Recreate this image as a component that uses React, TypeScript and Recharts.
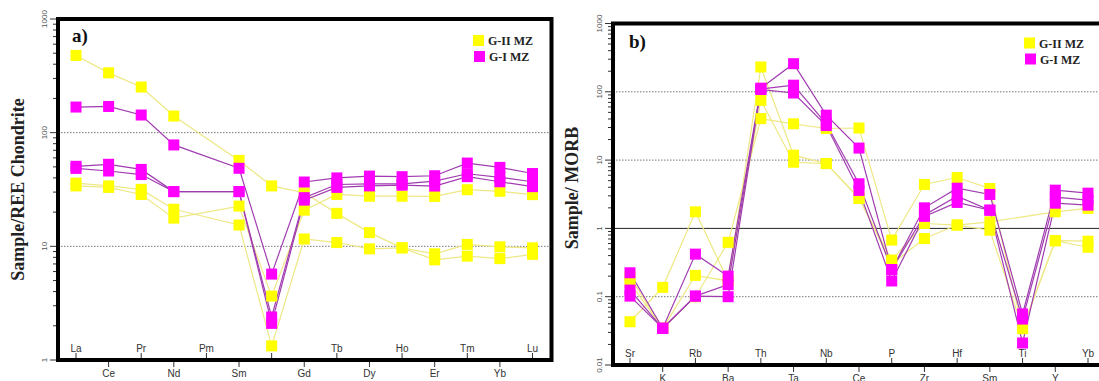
import { LineChart, Line, XAxis, YAxis, ReferenceLine } from "recharts";

// Chondrite-normalised REE pattern
const reeElements = ["La", "Ce", "Pr", "Nd", "Pm", "Sm", "Eu", "Gd", "Tb", "Dy", "Ho", "Er", "Tm", "Yb", "Lu"];
const reeGII_1 = [478, 336, 252, 140, null, 57, 34, 29.6, 19.5, 13.2, 9.7, 8.6, 10.4, 9.9, 9.7];
const reeGII_2 = [36, 34, 31.7, 21.2, null, 15.4, 1.33, 11.6, 10.8, 9.5, 9.7, 7.6, 8.2, 7.8, 8.5];
const reeGII_3 = [34, 33, 28.6, 17.7, null, 22.6, 3.65, 20.8, 28.6, 27.6, 27.6, 27.5, 31.5, 30.5, 28.5];
const reeGI_1 = [168, 170, 143, 78, null, 48.6, 5.7, 36.8, 40, 41.5, 41, 41.8, 54, 49.5, 43.7];
const reeGI_2 = [50.6, 52.7, 47.5, 30.3, null, 30.3, 2.39, 26.8, 35, 35.5, 35.4, 37.5, 43.5, 40.5, 37];
const reeGI_3 = [48.5, 46, 42.8, 30.3, null, 30.3, 2.1, 25.5, 33, 34, 34.5, 33.9, 41, 37, 33.5];

// MORB-normalised multi-element pattern
const morbElements = ["Sr", "K", "Rb", "Ba", "Th", "Ta", "Nb", "Ce", "P", "Zr", "Hf", "Sm", "Ti", "Y", "Yb"];
const morbGII_1 = [0.16, 0.0345, 0.1, 0.625, 40.5, 34, 29, 29.5, 0.675, 4.4, 5.56, 3.84, 0.0345, 0.66, 0.65];
const morbGII_2 = [0.043, 0.137, 1.75, 0.17, 231, 11.8, 8.9, 2.74, 0.344, 1.18, 1.12, 0.94, 0.034, 0.66, 0.53];
const morbGII_3 = [0.196, 0.0345, 0.205, 0.17, 75, 9.3, 8.9, 2.8, 0.3, 0.71, 1.12, 1.25, null, 1.75, 1.96];
const morbGI_1 = [0.224, 0.0345, 0.42, 0.2, 113, 258, 45.5, 15, 0.25, 2.0, 3.88, 3.14, 0.056, 3.63, 3.28];
const morbGI_2 = [0.125, 0.0345, 0.102, 0.15, 110, 125, 34, 4.5, 0.25, 1.57, 2.97, 1.85, 0.047, 2.87, 2.59];
const morbGI_3 = [0.102, 0.0345, 0.102, 0.1, 108, 96, 32, 3.6, 0.17, 1.5, 2.4, 1.85, 0.021, 2.34, 2.19];

const reeTicks = [1, 2, 3, 4, 5, 6, 7, 8, 9, 10, 20, 30, 40, 50, 60, 70, 80, 90, 100, 200, 300, 400, 500, 600, 700, 800, 900, 1000];
const reeMajor = [1, 10, 100, 1000];
const morbTicks = [
  0.01, 0.02, 0.03, 0.04, 0.05, 0.06, 0.07, 0.08, 0.09, 0.1, 0.2, 0.3, 0.4, 0.5, 0.6, 0.7, 0.8, 0.9,
  1, 2, 3, 4, 5, 6, 7, 8, 9, 10, 20, 30, 40, 50, 60, 70, 80, 90, 100, 200, 300, 400, 500, 600, 700, 800, 900, 1000,
];
const morbMajor = [0.01, 0.1, 1, 10, 100, 1000];

// the Eu name sits under the Eu-anomaly markers, so only its tick is drawn
const tickOnly = ["Eu"];

const YELLOW = "#ffff00";
const MAGENTA = "#ff00ff";
const YELLOW_LINE = "#eee884";
const MAGENTA_LINE = "#a03cb0";
const SERIF = "'Liberation Serif', 'Times New Roman', serif";
const SANS = "'Liberation Sans', Arial, sans-serif";

const buildRows = (cats: string[], series: Record<string, (number | null)[]>) =>
  cats.map((el, i) => {
    const row: Record<string, any> = { el };
    Object.keys(series).forEach((k) => (row[k] = series[k][i]));
    return row;
  });

const reeRows = buildRows(reeElements, {
  y1: reeGII_1, y2: reeGII_2, y3: reeGII_3, m1: reeGI_1, m2: reeGI_2, m3: reeGI_3,
});
const morbRows = buildRows(morbElements, {
  y1: morbGII_1, y2: morbGII_2, y3: morbGII_3, m1: morbGI_1, m2: morbGI_2, m3: morbGI_3,
});

const squareDot = (fill: string) => (props: any) => {
  const { cx, cy, index } = props;
  if (cx == null || cy == null || props.value == null) return <g key={index} />;
  return <rect key={index} x={cx - 5.5} y={cy - 5.5} width={11} height={11} fill={fill} />;
};

// element names alternate: inside the frame above the axis, then below it
const makeElementTick = (cats: string[]) => (props: any) => {
  const { x, y, payload } = props;
  const i = cats.indexOf(payload.value);
  const up = i % 2 === 0;
  return (
    <g>
      <line x1={x} x2={x} y1={y} y2={up ? y - 7 : y + 7} stroke="#333" />
      {!tickOnly.includes(payload.value) && (
        <text x={x} y={up ? y - 8 : y + 17} textAnchor="middle" fontSize={10} fill="#333" fontFamily={SANS}>
          {payload.value}
        </text>
      )}
    </g>
  );
};

const makeLogTick = (majors: number[]) => (props: any) => {
  const { x, y, payload } = props;
  const major = majors.includes(payload.value);
  return (
    <g>
      <line x1={x - (major ? 8 : 5)} x2={x} y1={y} y2={y} stroke="#333" />
      {major && (
        <text
          x={x - 11}
          y={y}
          transform={`rotate(-90 ${x - 11} ${y})`}
          textAnchor="middle"
          fontSize={8}
          fill="#555"
          fontFamily={SANS}
        >
          {String(payload.value)}
        </text>
      )}
    </g>
  );
};

const seriesLines = () =>
  [
    { key: "y1", stroke: YELLOW_LINE, fill: YELLOW },
    { key: "y2", stroke: YELLOW_LINE, fill: YELLOW },
    { key: "y3", stroke: YELLOW_LINE, fill: YELLOW },
    { key: "m1", stroke: MAGENTA_LINE, fill: MAGENTA },
    { key: "m2", stroke: MAGENTA_LINE, fill: MAGENTA },
    { key: "m3", stroke: MAGENTA_LINE, fill: MAGENTA },
  ].map((s) => (
    <Line
      key={s.key}
      type="linear"
      dataKey={s.key}
      stroke={s.stroke}
      strokeWidth={1.2}
      dot={squareDot(s.fill)}
      activeDot={false}
      connectNulls
      isAnimationActive={false}
    />
  ));

const dotted = { stroke: "#777", strokeDasharray: "1.5 1.5", strokeWidth: 1 };

const Legend = ({ x, y }: { x: number; y: number }) => (
  <g fontFamily={SERIF} fontWeight="bold" fontSize={12} fill="#222">
    <rect x={x} y={y} width={11} height={11} fill={YELLOW} />
    <text x={x + 15} y={y + 10}>G-II MZ</text>
    <rect x={x + 1} y={y + 16} width={11} height={11} fill={MAGENTA} />
    <text x={x + 16} y={y + 26}>G-I MZ</text>
  </g>
);

export default function App() {
  return (
    <div
      style={{
        position: "absolute",
        left: 0,
        top: 0,
        width: 1099,
        height: 381,
        overflow: "hidden",
        background: "#fff",
      }}
    >
      <div style={{ position: "absolute", left: 0, top: 0 }}>
        <LineChart width={558} height={381} data={reeRows} margin={{ top: 19, right: 6.5, bottom: 0, left: 0 }}>
          <XAxis
            dataKey="el"
            type="category"
            interval={0}
            padding={{ left: 18, right: 19 }}
            height={21}
            axisLine={false}
            tickLine={false}
            tickSize={0}
            tickMargin={0}
            tick={makeElementTick(reeElements)}
          />
          <YAxis
            type="number"
            scale="log"
            domain={[1, 1000]}
            allowDataOverflow
            ticks={reeTicks}
            interval={0}
            width={58}
            axisLine={false}
            tickLine={false}
            tickSize={0}
            tickMargin={0}
            tick={makeLogTick(reeMajor)}
          />
          <ReferenceLine y={100} {...dotted} />
          <ReferenceLine y={10} {...dotted} />
          {seriesLines()}
        </LineChart>
      </div>

      <div style={{ position: "absolute", left: 555, top: 0 }}>
        <LineChart width={550} height={381} data={morbRows} margin={{ top: 23.5, right: 0, bottom: 0, left: 0 }}>
          <XAxis
            dataKey="el"
            type="category"
            interval={0}
            padding={{ left: 17, right: 17 }}
            height={16}
            axisLine={false}
            tickLine={false}
            tickSize={0}
            tickMargin={0}
            tick={makeElementTick(morbElements)}
          />
          <YAxis
            type="number"
            scale="log"
            domain={[0.01, 1000]}
            allowDataOverflow
            ticks={morbTicks}
            interval={0}
            width={58}
            axisLine={false}
            tickLine={false}
            tickSize={0}
            tickMargin={0}
            tick={makeLogTick(morbMajor)}
          />
          <ReferenceLine y={100} {...dotted} />
          <ReferenceLine y={10} {...dotted} />
          <ReferenceLine y={1} stroke="#222" strokeWidth={1} />
          <ReferenceLine y={0.1} {...dotted} />
          {seriesLines()}
        </LineChart>
      </div>

      {/* frames, panel letters, axis titles and legends */}
      <svg
        width={1099}
        height={381}
        style={{ position: "absolute", left: 0, top: 0, pointerEvents: "none" }}
      >
        <rect x={58} y={19} width={493.5} height={341} fill="none" stroke="#000" strokeWidth={4} />
        <rect x={613} y={23.5} width={492} height={341.5} fill="none" stroke="#000" strokeWidth={4} />

        <text x={72} y={42} fontFamily={SERIF} fontWeight="bold" fontSize={19} fill="#111">a)</text>
        <text x={629} y={48} fontFamily={SERIF} fontWeight="bold" fontSize={19} fill="#111">b)</text>

        <text
          x={24}
          y={189.5}
          transform="rotate(-90 24 189.5)"
          textAnchor="middle"
          fontFamily={SERIF}
          fontWeight="bold"
          fontSize={18}
          fill="#222"
        >
          Sample/REE Chondrite
        </text>
        <text
          x={578}
          y={188}
          transform="rotate(-90 578 188)"
          textAnchor="middle"
          fontFamily={SERIF}
          fontWeight="bold"
          fontSize={18}
          fill="#222"
        >
          Sample/ MORB
        </text>

        <Legend x={473} y={35} />
        <Legend x={1024} y={37.5} />
      </svg>
    </div>
  );
}
